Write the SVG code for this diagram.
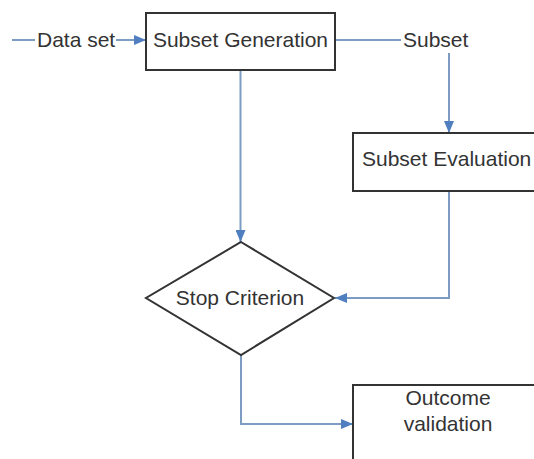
<svg xmlns="http://www.w3.org/2000/svg" width="534" height="459" viewBox="0 0 534 459">
<defs>
<marker id="arr" viewBox="0 0 12 10" refX="12" refY="5" markerWidth="12" markerHeight="10" markerUnits="userSpaceOnUse" orient="auto">
<path d="M0,0 L12,5 L0,10 Z" fill="#4f7fbf"/>
</marker>
<style>
.box{fill:#fff;stroke:#333;stroke-width:2}
.t{font-family:"Liberation Sans",Arial,sans-serif;font-size:21px;fill:#333}
.c{fill:none;stroke:#7d9cc4;stroke-width:2}
</style>
</defs>
<rect width="534" height="459" fill="#fff"/>
<g id="connectors">
<line class="c" x1="12" y1="40" x2="35" y2="40"/>
<line class="c" x1="116" y1="40" x2="146" y2="40" marker-end="url(#arr)"/>
<line class="c" x1="335" y1="40" x2="401" y2="40"/>
<line class="c" x1="449" y1="53" x2="449" y2="133" marker-end="url(#arr)"/>
<line class="c" x1="240.5" y1="70" x2="240.5" y2="242" marker-end="url(#arr)"/>
<polyline class="c" points="449,191 449,298 335,298" marker-end="url(#arr)"/>
<polyline class="c" points="241,355 241,424 353,424" marker-end="url(#arr)"/>
</g>
<g id="dataset"><text class="t" x="37" y="47">Data set</text></g>
<g id="subset"><text class="t" x="403" y="47">Subset</text></g>
<g id="subset-generation">
<rect class="box" x="146" y="13" width="189" height="57"/>
<text class="t" x="240.5" y="47" text-anchor="middle">Subset Generation</text>
</g>
<g id="subset-evaluation">
<rect class="box" x="353" y="133" width="200" height="58"/>
<text class="t" x="362" y="166">Subset Evaluation</text>
</g>
<g id="stop-criterion">
<polygon class="box" points="241,242 334,298 241,355 146,298"/>
<text class="t" x="240" y="305" text-anchor="middle">Stop Criterion</text>
</g>
<g id="outcome-validation">
<rect class="box" x="353" y="385" width="200" height="100"/>
<text class="t" x="448" y="405" text-anchor="middle">Outcome</text>
<text class="t" x="448" y="431" text-anchor="middle">validation</text>
</g>
</svg>
